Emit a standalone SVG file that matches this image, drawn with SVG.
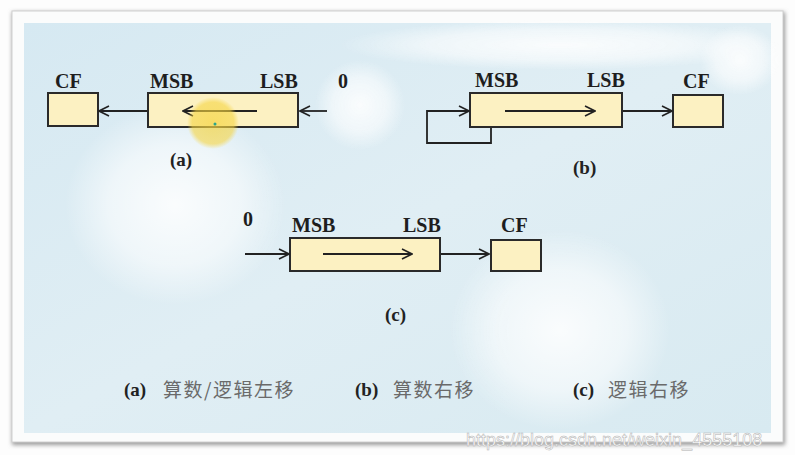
<svg xmlns="http://www.w3.org/2000/svg" width="795" height="455" viewBox="0 0 795 455">
<defs>
<linearGradient id="bg" x1="0" y1="0" x2="1" y2="1">
<stop offset="0" stop-color="#d6e9f2"/>
<stop offset="0.5" stop-color="#e0eef4"/>
<stop offset="1" stop-color="#d8eaf1"/>
</linearGradient>
<radialGradient id="glow">
<stop offset="0" stop-color="#ffffff" stop-opacity="0.95"/>
<stop offset="0.6" stop-color="#ffffff" stop-opacity="0.6"/>
<stop offset="1" stop-color="#ffffff" stop-opacity="0"/>
</radialGradient>
<radialGradient id="hl">
<stop offset="0" stop-color="#f5d440" stop-opacity="0.7"/>
<stop offset="0.8" stop-color="#f5d440" stop-opacity="0.6"/>
<stop offset="1" stop-color="#f5d440" stop-opacity="0"/>
</radialGradient>
<marker id="arr" viewBox="0 0 12 12" refX="11" refY="6" markerWidth="12" markerHeight="12" markerUnits="userSpaceOnUse" orient="auto">
<path d="M1,1 L11,6 L1,11" fill="none" stroke="#222" stroke-width="1.6"/>
</marker>
<filter id="sh" x="-5%" y="-5%" width="110%" height="110%">
<feGaussianBlur stdDeviation="2"/>
</filter>
</defs>
<style>
.box{fill:#fcf1c2;stroke:#2a2a2a;stroke-width:2}
.ln{fill:none;stroke:#222;stroke-width:1.8}
.lb{font-family:"Liberation Serif",serif;font-weight:bold;font-size:20px;fill:#1e1e1e}
.sub{font-family:"Liberation Serif",serif;font-weight:bold;font-size:19px;fill:#222}
.cap{font-family:"Noto Sans CJK SC",sans-serif;font-size:19px;fill:#6a6a6a;letter-spacing:1.5px}
.wm{font-family:"Liberation Sans",sans-serif;font-size:18px;fill:#ffffff;stroke:#b0b0b0;stroke-width:0.5}
</style>
<rect x="0" y="0" width="795" height="455" fill="#fdfdfd"/>
<rect x="12" y="12" width="773" height="433" fill="#9a9a9a" filter="url(#sh)"/>
<rect x="12" y="11" width="771" height="431" fill="#fbfcfc" stroke="#d0d0d0" stroke-width="1"/>
<rect x="24" y="23" width="747" height="410" fill="url(#bg)"/>
<g opacity="0.9">
<ellipse cx="175" cy="205" rx="110" ry="100" fill="url(#glow)"/>
<ellipse cx="360" cy="105" rx="45" ry="45" fill="url(#glow)"/>
<ellipse cx="560" cy="330" rx="110" ry="100" fill="url(#glow)"/>
<ellipse cx="560" cy="45" rx="220" ry="25" fill="url(#glow)"/>
<ellipse cx="740" cy="60" rx="40" ry="35" fill="url(#glow)"/>
</g>

<g id="a-cf">
<rect class="box" x="48" y="93" width="50" height="33"/>
<text class="lb" x="55" y="88">CF</text>
</g>
<g id="a-reg">
<rect class="box" x="148" y="93" width="150" height="34"/>
<text class="lb" x="150" y="88">MSB</text>
<text class="lb" x="260" y="88">LSB</text>
</g>
<g id="a-zero"><text class="lb" x="338" y="88">0</text></g>
<g id="a-label"><text class="sub" x="170" y="166">(a)</text></g>

<g id="b-reg">
<rect class="box" x="470" y="93" width="152" height="34"/>
<text class="lb" x="475" y="87">MSB</text>
<text class="lb" x="587" y="87">LSB</text>
</g>
<g id="b-cf">
<rect class="box" x="673" y="95" width="50" height="32"/>
<text class="lb" x="683" y="88">CF</text>
</g>
<g id="b-label"><text class="sub" x="573" y="174">(b)</text></g>

<g id="c-zero"><text class="lb" x="243" y="226">0</text></g>
<g id="c-reg">
<rect class="box" x="290" y="238" width="150" height="33"/>
<text class="lb" x="292" y="232">MSB</text>
<text class="lb" x="403" y="232">LSB</text>
</g>
<g id="c-cf">
<rect class="box" x="491" y="240" width="50" height="31"/>
<text class="lb" x="501" y="232">CF</text>
</g>
<g id="c-label"><text class="sub" x="385" y="321">(c)</text></g>

<g id="connectors">
<line class="ln" x1="327" y1="111" x2="300" y2="111" marker-end="url(#arr)"/>
<line class="ln" x1="257" y1="111" x2="183" y2="111" marker-end="url(#arr)"/>
<line class="ln" x1="147" y1="111" x2="99" y2="111" marker-end="url(#arr)"/>
<polyline class="ln" points="491,128 491,143 427,143 427,111 469,111" marker-end="url(#arr)"/>
<line class="ln" x1="505" y1="111" x2="595" y2="111" marker-end="url(#arr)"/>
<line class="ln" x1="623" y1="111" x2="672" y2="111" marker-end="url(#arr)"/>
<line class="ln" x1="245" y1="254" x2="289" y2="254" marker-end="url(#arr)"/>
<line class="ln" x1="323" y1="254" x2="412" y2="254" marker-end="url(#arr)"/>
<line class="ln" x1="441" y1="254" x2="489" y2="254" marker-end="url(#arr)"/>
</g>

<circle cx="213" cy="123" r="26" fill="url(#hl)"/>
<circle cx="215" cy="124" r="1.5" fill="#2aa58a"/>

<g id="captions">
<text class="sub" x="124" y="396">(a)</text>
<text class="cap" x="163" y="397">算数/逻辑左移</text>
<text class="sub" x="355" y="396">(b)</text>
<text class="cap" x="393" y="397">算数右移</text>
<text class="sub" x="573" y="396">(c)</text>
<text class="cap" x="608" y="397">逻辑右移</text>
</g>

<text class="wm" x="466" y="446">https://blog.csdn.net/weixin_4555108</text>
</svg>
